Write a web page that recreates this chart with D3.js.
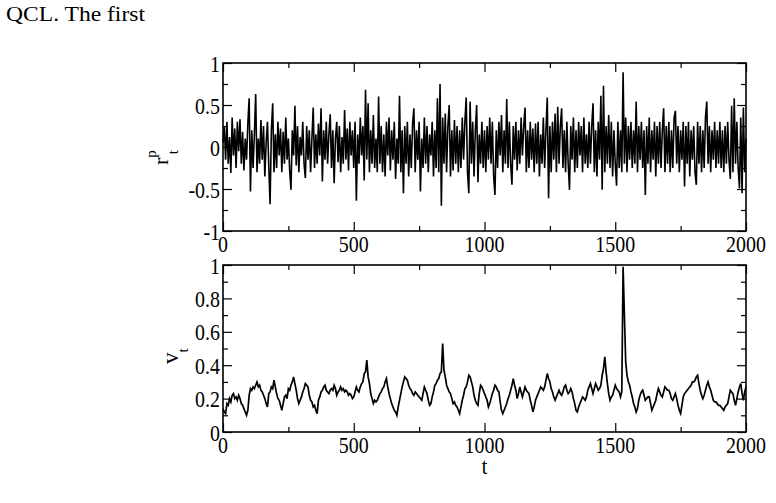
<!DOCTYPE html>
<html><head><meta charset="utf-8">
<script src="https://cdn.jsdelivr.net/npm/d3@7"></script>
<style>body{margin:0;background:#fff}svg{display:block}</style>
</head><body>
<svg id="c" width="776" height="503"></svg>
<script>
// time step of both series
const tStep = 5;
// return series r^p_t, sampled every 5 time units (t = 0..2000)
const rValues = [
0.05,0.25,-0.15,0.3,-0.2,0.12,-0.31,0.35,-0.1,0.22,-0.25,0.3,-0.05,0.33,-0.2,0.18,-0.28,0.1,-0.15,0.28,
0.58,-0.53,0.2,-0.25,0.15,0.63,-0.3,0.1,-0.2,0.32,-0.15,0.25,-0.35,0.05,0.3,-0.22,-0.68,0.2,0.52,-0.3,
0.15,-0.25,0.3,-0.1,0.22,-0.3,0.18,-0.2,0.35,-0.15,0.1,-0.28,-0.51,0.2,-0.1,0.49,-0.22,0.25,-0.3,0.12,
-0.1,0.3,-0.2,-0.37,0.25,-0.15,0.2,-0.3,0.1,0.47,-0.25,0.15,-0.2,0.28,-0.1,0.46,-0.41,0.2,-0.15,0.3,
-0.2,0.15,0.39,-0.25,0.2,-0.43,0.1,0.3,-0.18,0.25,-0.3,0.12,-0.2,0.44,-0.15,0.22,-0.28,0.3,-0.1,0.2,
-0.25,0.3,-0.64,0.15,-0.2,0.35,-0.1,0.25,-0.4,0.68,-0.15,0.52,-0.3,0.2,-0.2,0.38,-0.25,0.1,-0.3,0.6,
-0.2,0.25,-0.3,0.15,-0.35,0.3,-0.1,0.35,-0.28,0.2,-0.15,0.3,-0.38,0.1,-0.2,0.61,-0.3,0.2,-0.55,0.25,
-0.2,0.3,-0.35,0.15,-0.25,0.28,0.46,-0.3,0.2,-0.15,0.3,-0.53,0.1,-0.25,0.35,-0.2,0.25,-0.3,0.15,-0.1,
0.3,-0.35,0.2,-0.25,0.58,-0.3,0.75,-0.7,0.35,-0.2,0.4,-0.3,0.25,0.5,-0.35,0.2,-0.28,0.32,-0.2,0.25,
-0.3,0.2,-0.25,0.35,-0.15,0.3,0.59,-0.3,-0.55,0.54,-0.2,0.3,-0.35,0.2,0.5,-0.42,0.15,-0.2,0.3,-0.25,
0.2,-0.3,0.25,-0.15,0.35,-0.2,0.3,-0.35,-0.57,0.2,-0.25,0.3,-0.1,0.38,-0.3,0.2,-0.2,0.57,-0.25,0.3,
-0.2,-0.45,0.25,-0.15,0.3,-0.28,0.2,-0.2,0.35,-0.1,0.25,0.47,-0.3,0.2,-0.25,0.3,-0.15,0.22,-0.3,0.28,
-0.2,0.3,-0.35,0.15,-0.2,0.35,-0.25,0.2,0.59,-0.61,0.25,-0.3,0.3,-0.15,0.4,-0.3,0.48,-0.2,0.25,0.46,
-0.25,0.2,-0.3,0.3,-0.2,-0.51,0.25,-0.15,0.35,-0.3,0.2,-0.25,0.3,-0.1,0.25,-0.3,0.35,-0.2,0.15,-0.25,
0.3,-0.2,0.25,0.52,-0.3,0.2,-0.35,0.3,-0.15,0.61,-0.51,0.73,-0.3,0.25,-0.2,0.38,-0.25,0.3,-0.35,0.2,
-0.2,-0.46,0.3,-0.25,0.2,-0.3,0.89,-0.2,0.35,-0.3,0.25,-0.15,0.3,-0.25,0.2,-0.2,0.54,-0.3,0.25,-0.15,
0.3,-0.25,0.2,-0.57,0.25,-0.2,0.35,-0.3,0.2,-0.15,0.3,-0.35,0.25,-0.2,0.3,-0.25,0.2,0.46,-0.3,0.25,
-0.2,0.3,-0.3,0.2,-0.25,0.35,0.43,-0.2,0.25,-0.3,0.2,-0.15,0.3,-0.47,0.25,-0.2,0.3,-0.35,0.2,-0.15,
0.25,-0.3,-0.45,0.3,-0.2,0.25,-0.3,0.2,-0.25,0.35,0.54,-0.2,0.25,-0.3,0.2,-0.15,0.3,-0.25,0.2,-0.2,
0.3,-0.25,0.2,-0.3,0.25,-0.2,0.3,-0.15,-0.38,0.49,-0.3,0.58,-0.2,0.3,-0.25,-0.49,0.35,-0.55,0.47,-0.3,0.1
];
// volatility series v_t, sampled every 5 time units (t = 0..2000)
const vValues = [
0.14,0.12,0.11,0.17,0.16,0.20,0.18,0.22,0.23,0.20,0.21,0.19,0.22,0.20,0.17,0.16,0.14,0.12,0.10,0.13,
0.22,0.26,0.25,0.27,0.26,0.28,0.30,0.27,0.28,0.25,0.24,0.22,0.20,0.17,0.15,0.23,0.24,0.27,0.26,0.31,
0.27,0.23,0.20,0.19,0.16,0.13,0.17,0.21,0.22,0.20,0.26,0.25,0.28,0.30,0.33,0.29,0.25,0.20,0.17,0.19,
0.21,0.24,0.26,0.29,0.28,0.27,0.22,0.19,0.18,0.15,0.16,0.13,0.11,0.19,0.21,0.24,0.25,0.27,0.28,0.25,
0.24,0.23,0.25,0.26,0.25,0.28,0.26,0.22,0.24,0.25,0.27,0.25,0.26,0.24,0.25,0.24,0.22,0.23,0.22,0.20,
0.21,0.24,0.27,0.25,0.24,0.27,0.29,0.30,0.35,0.36,0.43,0.33,0.29,0.23,0.20,0.17,0.19,0.18,0.19,0.21,
0.23,0.24,0.26,0.27,0.30,0.32,0.27,0.23,0.20,0.17,0.15,0.13,0.12,0.10,0.15,0.19,0.23,0.27,0.30,0.33,
0.32,0.31,0.28,0.26,0.25,0.23,0.22,0.24,0.23,0.22,0.21,0.20,0.19,0.23,0.27,0.25,0.23,0.19,0.16,0.17,
0.21,0.24,0.28,0.29,0.31,0.32,0.35,0.36,0.53,0.37,0.33,0.28,0.26,0.24,0.23,0.20,0.17,0.18,0.16,0.15,
0.13,0.11,0.15,0.19,0.22,0.26,0.27,0.30,0.34,0.33,0.30,0.27,0.22,0.19,0.17,0.16,0.23,0.28,0.27,0.25,
0.23,0.21,0.19,0.15,0.17,0.20,0.23,0.25,0.28,0.27,0.25,0.24,0.18,0.13,0.11,0.13,0.15,0.17,0.20,0.22,
0.25,0.28,0.32,0.28,0.25,0.20,0.23,0.27,0.24,0.21,0.24,0.27,0.25,0.24,0.23,0.19,0.16,0.12,0.15,0.19,
0.21,0.23,0.25,0.27,0.26,0.25,0.27,0.31,0.35,0.32,0.30,0.26,0.24,0.21,0.19,0.21,0.23,0.25,0.23,0.22,
0.24,0.27,0.28,0.25,0.23,0.24,0.26,0.24,0.20,0.17,0.13,0.12,0.15,0.17,0.19,0.21,0.20,0.19,0.21,0.25,
0.27,0.29,0.26,0.23,0.26,0.29,0.27,0.25,0.26,0.28,0.34,0.38,0.45,0.36,0.29,0.23,0.19,0.21,0.22,0.25,
0.28,0.26,0.25,0.24,0.21,0.24,0.99,0.70,0.42,0.34,0.30,0.28,0.24,0.21,0.17,0.15,0.12,0.14,0.19,0.22,
0.24,0.25,0.22,0.19,0.20,0.21,0.21,0.17,0.13,0.15,0.17,0.19,0.23,0.26,0.24,0.22,0.21,0.24,0.27,0.26,
0.25,0.25,0.23,0.20,0.19,0.21,0.23,0.20,0.16,0.13,0.11,0.16,0.21,0.23,0.24,0.25,0.26,0.27,0.28,0.30,
0.30,0.31,0.33,0.34,0.29,0.25,0.22,0.20,0.22,0.25,0.28,0.30,0.27,0.25,0.22,0.19,0.18,0.18,0.17,0.16,
0.16,0.15,0.14,0.13,0.15,0.16,0.17,0.21,0.25,0.24,0.23,0.19,0.16,0.20,0.24,0.27,0.29,0.23,0.19,0.24,0.27
];
// axis ticks
const xMajor = [0, 500, 1000, 1500, 2000];
const xMinor = [250, 750, 1250, 1750];
const rMajor = [-1, -0.5, 0, 0.5, 1];
const rMinor = [-0.75, -0.25, 0.25, 0.75];
const vMajor = [0, 0.2, 0.4, 0.6, 0.8, 1];
const vMinor = [0.1, 0.3, 0.5, 0.7, 0.9];

const svg = d3.select("#c");
const FONT = "'Liberation Serif','Times New Roman',serif";
const SX = 0.83; // horizontal squeeze of glyphs in the reference

const x = d3.scaleLinear().domain([0, 2000]).range([223, 746]);
const yR = d3.scaleLinear().domain([-1, 1]).range([231, 63]);
const yV = d3.scaleLinear().domain([0, 1]).range([432, 265]);

function fmt(v){ return String(v); }

function panel(y, yMaj, yMin, values, lw){
  const [y0, y1] = y.range(); // bottom, top
  const g = svg.append("g");
  // data line
  const line = d3.line().x((d,i)=>x(i*tStep)).y(d=>y(d));
  g.append("path").datum(values).attr("d", line)
    .attr("fill","none").attr("stroke","#000").attr("stroke-width", lw)
    .attr("stroke-linejoin","miter");
  // ticks (inward) on all sides
  const mk = (axisFn, sc, vals, len, tr) => {
    const a = g.append("g").attr("transform", tr)
      .call(axisFn(sc).tickValues(vals).tickSize(-len).tickFormat(""));
    a.select(".domain").remove();
    a.selectAll("line").attr("stroke","#000").attr("stroke-width",1.2);
  };
  mk(d3.axisBottom, x, xMajor, 9, `translate(0,${y0})`);
  mk(d3.axisBottom, x, xMinor, 5, `translate(0,${y0})`);
  mk(d3.axisTop, x, xMajor, 9, `translate(0,${y1})`);
  mk(d3.axisTop, x, xMinor, 5, `translate(0,${y1})`);
  mk(d3.axisLeft, y, yMaj, 9, `translate(${x.range()[0]},0)`);
  mk(d3.axisLeft, y, yMin, 5, `translate(${x.range()[0]},0)`);
  mk(d3.axisRight, y, yMaj, 9, `translate(${x.range()[1]},0)`);
  mk(d3.axisRight, y, yMin, 5, `translate(${x.range()[1]},0)`);
  // frame
  g.append("rect").attr("x", x.range()[0]).attr("y", y1)
    .attr("width", x.range()[1]-x.range()[0]).attr("height", y0-y1)
    .attr("fill","none").attr("stroke","#000").attr("stroke-width",1.6);
  // tick labels
  xMajor.forEach(v => {
    g.append("text").attr("transform", `translate(${x(v)},${y0+21}) scale(${SX},1)`)
      .attr("text-anchor","middle").attr("font-family",FONT).attr("font-size",24)
      .text(fmt(v));
  });
  yMaj.forEach(v => {
    g.append("text").attr("transform", `translate(${x.range()[0]-3},${y(v)+8.5}) scale(${SX},1)`)
      .attr("text-anchor","end").attr("font-family",FONT).attr("font-size",24)
      .text(fmt(v));
  });
  return g;
}

panel(yR, rMajor, rMinor, rValues, 1.6);
panel(yV, vMajor, vMinor, vValues, 1.7);

// y-axis titles
const t1 = svg.append("text").attr("transform","translate(168,165) rotate(-90)")
  .attr("font-family",FONT).attr("font-size",22);
t1.append("tspan").text("r");
t1.append("tspan").attr("font-size",15).attr("dy",-12).text("p");
t1.append("tspan").attr("font-size",15).attr("dx",-4).attr("dy",22).text("t");

const t2 = svg.append("text").attr("transform","translate(178,364) rotate(-90)")
  .attr("font-family",FONT).attr("font-size",23);
t2.append("tspan").text("v");
t2.append("tspan").attr("font-size",15).attr("dy",10).text("t");

// x-axis title
svg.append("text").attr("transform",`translate(${x(1000)},474) scale(${SX},1)`)
  .attr("text-anchor","middle").attr("font-family",FONT).attr("font-size",24).text("t");

// surrounding document text
svg.append("text").attr("x",6).attr("y",21).attr("font-family",FONT)
  .attr("font-size",21).attr("textLength",139).attr("lengthAdjust","spacingAndGlyphs")
  .text("QCL. The first");
svg.append("text").attr("x",410).attr("y",510).attr("font-family",FONT)
  .attr("font-size",11).text("p");
</script>
</body></html>
